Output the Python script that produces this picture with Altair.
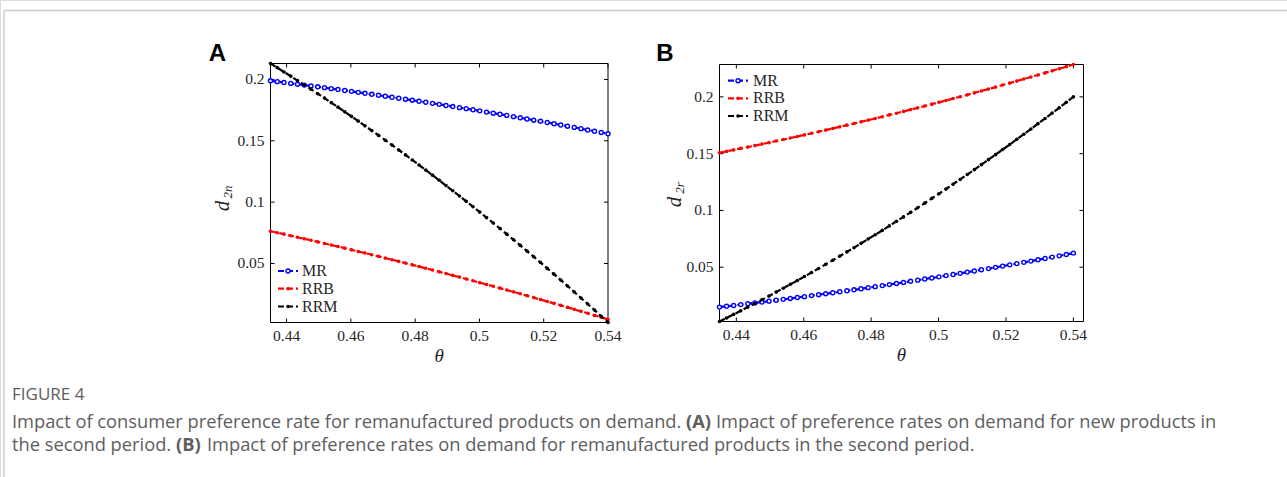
import altair as alt
import pandas as pd

# ---------------- data ----------------
theta = [0.435, 0.4371, 0.4392, 0.4413, 0.4434, 0.4455, 0.4476, 0.4497, 0.4518, 0.4539,
         0.456, 0.4581, 0.4602, 0.4623, 0.4644, 0.4665, 0.4686, 0.4707, 0.4728, 0.4749,
         0.477, 0.4791, 0.4812, 0.4833, 0.4854, 0.4875, 0.4896, 0.4917, 0.4938, 0.4959,
         0.498, 0.5001, 0.5022, 0.5043, 0.5064, 0.5085, 0.5106, 0.5127, 0.5148, 0.5169,
         0.519, 0.5211, 0.5232, 0.5253, 0.5274, 0.5295, 0.5316, 0.5337, 0.5358, 0.5379, 0.54]

# Panel A: d_2n
mr_a = [0.1989, 0.1982, 0.1975, 0.1968, 0.1961, 0.1954, 0.1947, 0.1940, 0.1933, 0.1925,
        0.1918, 0.1910, 0.1903, 0.1895, 0.1887, 0.1879, 0.1871, 0.1863, 0.1855, 0.1847,
        0.1839, 0.1831, 0.1822, 0.1814, 0.1805, 0.1797, 0.1788, 0.1779, 0.1770, 0.1762,
        0.1753, 0.1744, 0.1734, 0.1725, 0.1716, 0.1707, 0.1697, 0.1688, 0.1678, 0.1668,
        0.1659, 0.1649, 0.1639, 0.1629, 0.1619, 0.1609, 0.1599, 0.1588, 0.1578, 0.1568, 0.1557]
rrb_a = [0.0763, 0.0751, 0.0739, 0.0726, 0.0714, 0.0701, 0.0689, 0.0676, 0.0663, 0.0651,
         0.0638, 0.0625, 0.0611, 0.0598, 0.0585, 0.0571, 0.0558, 0.0544, 0.0531, 0.0517,
         0.0503, 0.0489, 0.0475, 0.0461, 0.0447, 0.0432, 0.0418, 0.0403, 0.0389, 0.0374,
         0.0359, 0.0344, 0.0329, 0.0314, 0.0299, 0.0284, 0.0269, 0.0253, 0.0238, 0.0222,
         0.0206, 0.0190, 0.0175, 0.0159, 0.0142, 0.0126, 0.0110, 0.0094, 0.0077, 0.0061, 0.0044]
rrm_a = [0.2130, 0.2096, 0.2061, 0.2027, 0.1991, 0.1956, 0.1920, 0.1884, 0.1848, 0.1811,
         0.1774, 0.1736, 0.1699, 0.1660, 0.1622, 0.1583, 0.1544, 0.1505, 0.1465, 0.1425,
         0.1385, 0.1344, 0.1303, 0.1261, 0.1220, 0.1178, 0.1135, 0.1093, 0.1050, 0.1006,
         0.0963, 0.0919, 0.0874, 0.0830, 0.0785, 0.0739, 0.0694, 0.0648, 0.0601, 0.0555,
         0.0508, 0.0460, 0.0413, 0.0365, 0.0317, 0.0268, 0.0219, 0.0170, 0.0120, 0.0070, 0.0020]

# Panel B: d_2r
mr_b = [0.0149, 0.0156, 0.0163, 0.0171, 0.0178, 0.0186, 0.0193, 0.0201, 0.0209, 0.0217,
        0.0225, 0.0233, 0.0241, 0.0250, 0.0258, 0.0267, 0.0275, 0.0284, 0.0293, 0.0301,
        0.0310, 0.0320, 0.0329, 0.0338, 0.0347, 0.0357, 0.0366, 0.0376, 0.0386, 0.0396,
        0.0405, 0.0415, 0.0426, 0.0436, 0.0446, 0.0457, 0.0467, 0.0478, 0.0488, 0.0499,
        0.0510, 0.0521, 0.0532, 0.0543, 0.0554, 0.0566, 0.0577, 0.0589, 0.0600, 0.0612, 0.0624]
rrb_b = [0.1508, 0.1520, 0.1533, 0.1546, 0.1558, 0.1571, 0.1584, 0.1597, 0.1611, 0.1624,
         0.1638, 0.1651, 0.1665, 0.1679, 0.1693, 0.1707, 0.1722, 0.1736, 0.1751, 0.1765,
         0.1780, 0.1795, 0.1810, 0.1825, 0.1841, 0.1856, 0.1872, 0.1888, 0.1903, 0.1919,
         0.1936, 0.1952, 0.1968, 0.1985, 0.2001, 0.2018, 0.2035, 0.2052, 0.2069, 0.2086,
         0.2104, 0.2121, 0.2139, 0.2157, 0.2175, 0.2193, 0.2211, 0.2229, 0.2248, 0.2266, 0.2285]
rrm_b = [0.0022, 0.0053, 0.0085, 0.0116, 0.0149, 0.0181, 0.0214, 0.0247, 0.0281, 0.0315,
         0.0349, 0.0383, 0.0418, 0.0454, 0.0489, 0.0525, 0.0561, 0.0598, 0.0635, 0.0672,
         0.0710, 0.0748, 0.0786, 0.0824, 0.0864, 0.0904, 0.0943, 0.0983, 0.1024, 0.1064,
         0.1106, 0.1147, 0.1189, 0.1231, 0.1273, 0.1316, 0.1359, 0.1403, 0.1447, 0.1491,
         0.1536, 0.1580, 0.1626, 0.1671, 0.1717, 0.1764, 0.1810, 0.1857, 0.1904, 0.1952, 0.2000]

series_names = ["MR", "RRB", "RRM"]
series_colors = ["#0000ff", "#ff0000", "#000000"]

x_ticks = [0.44, 0.46, 0.48, 0.5, 0.52, 0.54]
x_tick_labels = ["0.44", "0.46", "0.48", "0.5", "0.52", "0.54"]
y_ticks = [0.05, 0.1, 0.15, 0.2]
y_tick_labels = ["0.05", "0.1", "0.15", "0.2"]

caption_head = "FIGURE 4"
caption_l1 = ["Impact of consumer preference rate for remanufactured products on demand.", "(A)",
              "Impact of preference rates on demand for new products in"]
caption_l2 = ["the second period.", "(B)",
              "Impact of preference rates on demand for remanufactured products in the second period."]

# ---------------- helpers ----------------
W, H = 1287, 477
ONE = pd.DataFrame({"a": [0]})
SERIF = "Liberation Serif"
TXT = "#262626"
DASH = [6, 3]
LW = 2.2


def vtext(text, x, y, **kw):
    return alt.Chart(ONE).mark_text(**kw).encode(x=alt.value(x), y=alt.value(y), text=alt.value(text))


def open_circle(color):
    return dict(shape="circle", size=16, filled=False, stroke=color, strokeWidth=1.4,
                fill="#ffffff", fillOpacity=1, opacity=1)


def panel(series_vals, box, xdom, ydom, legend, letter, ylabel_sub, ytitle_pos):
    x0, x1, y0, y1 = box
    xs = alt.Scale(domain=xdom, range=[x0, x1], zero=False, nice=False)
    ys = alt.Scale(domain=ydom, range=[y1, y0], zero=False, nice=False)
    layers = []
    # frame
    layers.append(alt.Chart(ONE).mark_rect(fillOpacity=0, stroke="#000000", strokeWidth=1).encode(
        x=alt.value(x0), x2=alt.value(x1), y=alt.value(y0), y2=alt.value(y1)))
    # ticks (inward, on all four sides)
    xt = pd.DataFrame({"t": x_ticks, "lab": x_tick_labels})
    yt = pd.DataFrame({"t": y_ticks, "lab": y_tick_labels})
    for ya, yb in [(y1, y1 - 4), (y0, y0 + 4)]:
        layers.append(alt.Chart(xt).mark_rule(color="#000000", strokeWidth=1).encode(
            x=alt.X("t:Q", scale=xs, axis=None), y=alt.value(ya), y2=alt.value(yb)))
    for xa, xb in [(x0, x0 + 4), (x1 - 4, x1)]:
        layers.append(alt.Chart(yt).mark_rule(color="#000000", strokeWidth=1).encode(
            y=alt.Y("t:Q", scale=ys, axis=None), x=alt.value(xa), x2=alt.value(xb)))
    layers.append(alt.Chart(xt).mark_text(font=SERIF, fontSize=15.5, color=TXT, align="center",
                                          baseline="middle").encode(
        x=alt.X("t:Q", scale=xs, axis=None), y=alt.value(y1 + 13), text="lab:N"))
    layers.append(alt.Chart(yt).mark_text(font=SERIF, fontSize=15.5, color=TXT, align="right",
                                          baseline="middle").encode(
        y=alt.Y("t:Q", scale=ys, axis=None), x=alt.value(x0 - 6), text="lab:N"))
    # axis titles
    layers.append(vtext("θ", (x0 + x1) / 2, y1 + 33, font=SERIF, fontSize=19, fontStyle="italic",
                        color=TXT, align="center", baseline="middle"))
    tx, ty = ytitle_pos
    layers.append(vtext("d", tx, ty, font=SERIF, fontSize=21, fontStyle="italic", color=TXT,
                        align="center", baseline="middle", angle=270))
    layers.append(vtext(ylabel_sub, tx + 5, ty - 14, font=SERIF, fontSize=13, fontStyle="italic",
                        color=TXT, align="center", baseline="middle", angle=270))
    # panel letter
    lx, ly = letter[1]
    layers.append(vtext(letter[0], lx, ly, font="Liberation Sans", fontSize=24, fontWeight="bold",
                        color="#000000", align="center", baseline="middle"))
    # series
    for name, vals, color in zip(series_names, series_vals, series_colors):
        df = pd.DataFrame({"theta": theta, "v": vals})
        base = alt.Chart(df).encode(x=alt.X("theta:Q", scale=xs, axis=None),
                                    y=alt.Y("v:Q", scale=ys, axis=None))
        layers.append(base.mark_line(color=color, strokeWidth=LW, strokeDash=DASH))
        if name == "MR":
            layers.append(base.mark_point(**open_circle(color)))
        else:
            layers.append(base.mark_circle(size=13, color=color, opacity=1))
    # legend
    lx0, lx1, ltx, lys = legend
    for name, color, yy in zip(series_names, series_colors, lys):
        layers.append(alt.Chart(ONE).mark_rule(color=color, strokeWidth=LW, strokeDash=DASH).encode(
            x=alt.value(lx0), x2=alt.value(lx1), y=alt.value(yy)))
        mid = (lx0 + lx1) / 2
        if name == "MR":
            layers.append(alt.Chart(ONE).mark_point(**open_circle(color)).encode(
                x=alt.value(mid), y=alt.value(yy)))
        else:
            layers.append(alt.Chart(ONE).mark_circle(size=13, color=color, opacity=1).encode(
                x=alt.value(mid), y=alt.value(yy)))
        layers.append(vtext(name, ltx, yy, font=SERIF, fontSize=16, color=TXT, align="left",
                            baseline="middle"))
    return layers


layers = []
# page border
layers.append(alt.Chart(ONE).mark_rule(color="#cccccc", strokeWidth=1.5).encode(
    x=alt.value(4), x2=alt.value(W), y=alt.value(10.5)))
layers.append(alt.Chart(ONE).mark_rule(color="#cccccc", strokeWidth=1.5).encode(
    x=alt.value(4), y=alt.value(10.5), y2=alt.value(H)))

layers += panel([mr_a, rrb_a, rrm_a], (270.5, 608, 63.5, 322.5), [0.435, 0.54], [0.0019, 0.213],
                (278, 298, 302, [271, 288.7, 306.5]), ("A", (217.5, 53.5)), "2n", (223, 206))
layers += panel([mr_b, rrb_b, rrm_b], (719.5, 1083.5, 64.5, 321.5), [0.435, 0.543], [0.0022, 0.2285],
                (728, 748, 753, [80.7, 98.3, 116]), ("B", (665, 53.5)), "2r", (675, 202))

# caption
CAP = "#5e5e5e"
CF = "Open Sans"
CS = 18.3
layers.append(vtext(caption_head, 12, 400, font=CF, fontSize=17, color=CAP, align="left",
                    baseline="alphabetic"))
for segs, xs_, yb in [(caption_l1, [12, 686, 716], 428), (caption_l2, [12, 176, 207], 451)]:
    for i, (s, xx) in enumerate(zip(segs, xs_)):
        layers.append(vtext(s, xx, yb, font=CF, fontSize=CS, color=CAP, align="left",
                            baseline="alphabetic", fontWeight="bold" if i == 1 else "normal"))

chart = alt.layer(*layers).resolve_scale(x="independent", y="independent").properties(
    width=W, height=H, padding=0, autosize=alt.AutoSizeParams(type="none")
).configure_view(stroke=None).configure(background="#ffffff")

chart.save("out.html", embed_options={"renderer": "svg", "actions": False})
